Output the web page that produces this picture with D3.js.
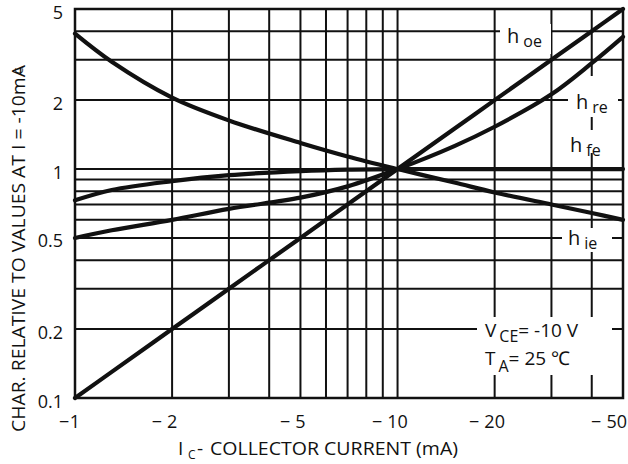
<!DOCTYPE html>
<html><head><meta charset="utf-8">
<script src="https://cdn.jsdelivr.net/npm/d3@7"></script>
<style>
html,body{margin:0;padding:0;background:#fff;}
text{font-family:"Open Sans","Liberation Sans",sans-serif;fill:#111;}
</style></head>
<body><svg id="c" width="628" height="464"></svg>
<script>
// ---- data ----
const xTickValues = [1, 2, 5, 10, 20, 50];
const xTickLabels = ["\u22121", "\u2212 2", "\u2212 5", "\u2212 10", "\u2212 20", "\u2212 50"];
const yTickValues = [0.1, 0.2, 0.5, 1, 2, 5];
const yTickLabels = ["0.1", "0.2", "0.5", "1", "2", "5"];
const xGridValues = [1, 2, 3, 4, 5, 6, 7, 8, 9, 10, 20, 30, 40, 50];
const yGridValues = [0.1, 0.2, 0.3, 0.4, 0.5, 0.6, 0.7, 0.8, 0.9, 1, 2, 3, 4, 5];
const current = [1, 1.3, 2, 3, 5, 7, 10, 15, 20, 30, 40, 50];
const hoe = [0.1, 0.13, 0.2, 0.3, 0.5, 0.7, 1, 1.5, 2, 3, 4, 5];
const hie = [3.9, 2.94, 2.05, 1.63, 1.30, 1.135, 1, 0.873, 0.79, 0.70, 0.643, 0.6];
const hre = [0.5, 0.54, 0.6, 0.67, 0.75, 0.84, 1, 1.26, 1.53, 2.12, 2.9, 3.78];
const hfe = [0.73, 0.81, 0.885, 0.94, 0.98, 0.995, 1, 1, 1, 1, 1, 1];

// ---- layout ----
const L = 75, R = 623, T = 9, B = 398;
const svg = d3.select("#c");
const x = d3.scaleLog().domain([1, 50]).range([L, R]);
const y = d3.scaleLog().domain([0.1, 5]).range([B, T]);

// grid
const g = svg.append("g");
g.selectAll("line.v").data(xGridValues).join("line")
  .attr("x1", d => x(d)).attr("x2", d => x(d)).attr("y1", T).attr("y2", B)
  .attr("stroke", "#111").attr("stroke-width", 2);
g.selectAll("line.h").data(yGridValues).join("line")
  .attr("y1", d => y(d)).attr("y2", d => y(d)).attr("x1", L).attr("x2", R)
  .attr("stroke", "#111").attr("stroke-width", 2);

// white label boxes (break the grid like the original)
const boxes = [
  [500, 24, 51, 30],
  [568, 76, 50, 41],
  [565, 130, 47, 23],
  [562, 228, 50, 24],
  [477, 317, 135, 58]
];
svg.selectAll("rect.box").data(boxes).join("rect")
  .attr("x", d => d[0]).attr("y", d => d[1]).attr("width", d => d[2]).attr("height", d => d[3])
  .attr("fill", "#fff");

// frame
svg.append("rect").attr("x", L).attr("y", T).attr("width", R - L).attr("height", B - T)
  .attr("fill", "none").attr("stroke", "#111").attr("stroke-width", 2.5);

// curves
const line = d3.line().curve(d3.curveCatmullRom.alpha(0.5));
function drawCurve(xs, ys) {
  svg.append("path").attr("d", line(xs.map((d, i) => [x(d), y(ys[i])])))
    .attr("fill", "none").attr("stroke", "#111").attr("stroke-width", 4.2)
    .attr("stroke-linecap", "round");
}
drawCurve(current, hoe);
drawCurve(current, hie);
drawCurve(current, hre);
drawCurve(current, hfe);

// x tick labels: digits centred on the grid line, minus sign to the left
const xt = svg.append("g");
xTickValues.forEach((d, i) => {
  const lab = xTickLabels[i];
  const num = lab.replace(/[^0-9.]/g, "");
  const spaced = lab.indexOf(" ") >= 0;
  let cx = x(d);
  const tn = xt.append("text").attr("y", 428).attr("font-size", 18).attr("text-anchor", "middle").text(num);
  const w = tn.node().getComputedTextLength();
  if (cx + w / 2 > 627) cx = 627 - w / 2;
  tn.attr("x", cx);
  xt.append("text").attr("x", cx - w / 2 - (spaced ? 5 : 0.5)).attr("y", 428)
    .attr("font-size", 18).attr("text-anchor", "end").text("\u2212");
});

// y tick labels
svg.append("g").selectAll("text").data(yTickValues).join("text")
  .attr("x", 63).attr("y", d => y(d) + 9.5).attr("text-anchor", "end")
  .attr("font-size", 18).text((d, i) => yTickLabels[i]);

// x axis title
svg.append("text").attr("x", 178).attr("y", 455).attr("font-size", 19).text("I");
svg.append("text").attr("x", 188).attr("y", 459).attr("font-size", 12).text("C");
svg.append("text").attr("x", 197).attr("y", 455).attr("font-size", 19).text("-");
svg.append("text").attr("x", 210).attr("y", 455).attr("font-size", 19)
  .attr("textLength", 248).attr("lengthAdjust", "spacingAndGlyphs").text("COLLECTOR CURRENT (mA)");

// y axis title
svg.append("text").attr("transform", "translate(25,432) rotate(-90)")
  .attr("font-size", 18).attr("textLength", 367).attr("lengthAdjust", "spacingAndGlyphs")
  .text("CHAR. RELATIVE TO VALUES AT I  = -10mA");
svg.append("text").attr("transform", "translate(23,74) rotate(-90)")
  .attr("font-size", 10).text("C");

// curve labels
function hLabel(px, py, sub) {
  const t = svg.append("text").attr("x", px).attr("y", py).attr("font-size", 20);
  t.append("tspan").text("h");
  t.append("tspan").attr("font-size", 16).attr("dx", 4).attr("dy", 4).text(sub);
}
hLabel(507, 43, "oe");
hLabel(576, 109, "re");
hLabel(570, 152, "fe");
hLabel(568, 245, "ie");

const v1 = svg.append("text").attr("x", 485).attr("y", 337).attr("font-size", 19);
v1.append("tspan").text("V");
v1.append("tspan").attr("font-size", 16).attr("dx", 3).attr("dy", 5).text("CE");
v1.append("tspan").attr("dy", -5).text("= -10 V");
const v2 = svg.append("text").attr("x", 485).attr("y", 365).attr("font-size", 19);
v2.append("tspan").text("T");
v2.append("tspan").attr("font-size", 16).attr("dx", 3).attr("dy", 7).text("A");
v2.append("tspan").attr("dy", -7).text("= 25 \u2103");
</script></body></html>
